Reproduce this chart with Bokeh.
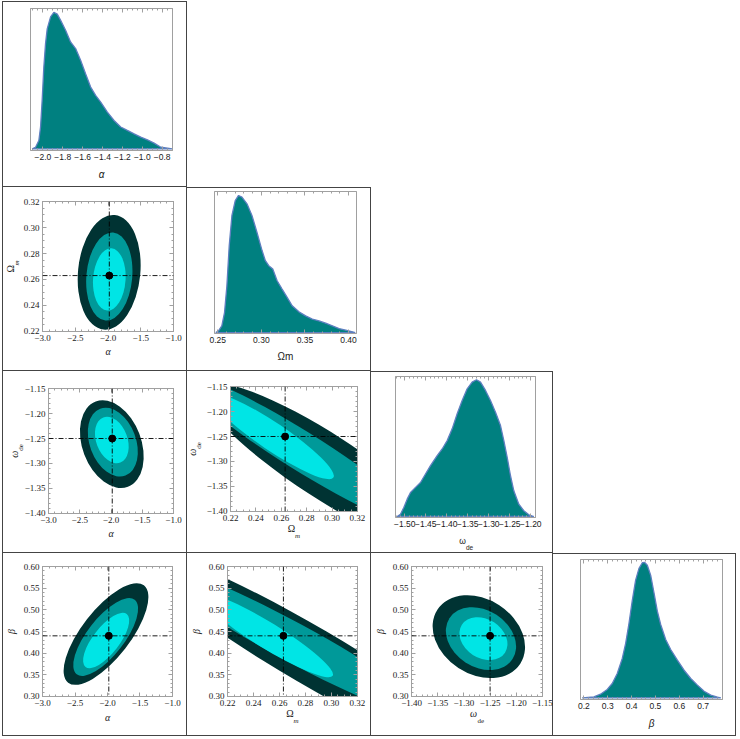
import math
from bokeh.plotting import figure
from bokeh.layouts import column, row
from bokeh.models import (Range1d, LinearAxis, Span, CustomJSTickFormatter, Title,
                          SingleIntervalTicker, ColumnDataSource)
from bokeh.embed import file_html
from bokeh.resources import INLINE

# ---------------- data: 1D marginal densities (relative) ----------------
alpha_x = [-2.107, -2.073, -2.040, -2.023, -2.007, -1.990, -1.973, -1.956, -1.922, -1.889,
           -1.855, -1.822, -1.771, -1.721, -1.670, -1.620, -1.570, -1.519, -1.469, -1.418,
           -1.351, -1.284, -1.217, -1.150, -1.082, -1.015, -0.948, -0.881, -0.813, -0.746, -0.700]
alpha_pdf = [0.0, 0.012, 0.061, 0.16, 0.355, 0.60, 0.77, 0.88, 0.968, 1.0,
             0.988, 0.944, 0.87, 0.784, 0.735, 0.65, 0.55, 0.453, 0.392, 0.343,
             0.27, 0.208, 0.16, 0.135, 0.11, 0.086, 0.066, 0.042, 0.012, 0.005, 0.0]

om_x = [0.2477, 0.2508, 0.2546, 0.2577, 0.2604, 0.2631, 0.2662, 0.2700, 0.2738, 0.2777,
        0.2835, 0.2892, 0.2950, 0.3008, 0.3046, 0.3085, 0.3131, 0.3181, 0.3238, 0.3296,
        0.3354, 0.3431, 0.3508, 0.3585, 0.3662, 0.3738, 0.3815, 0.3892, 0.3969, 0.4046, 0.4077]
om_pdf = [0.0, 0.012, 0.049, 0.146, 0.34, 0.634, 0.854, 0.963, 1.0, 0.988,
          0.939, 0.854, 0.73, 0.598, 0.524, 0.488, 0.463, 0.378, 0.317, 0.256,
          0.195, 0.151, 0.122, 0.098, 0.085, 0.068, 0.049, 0.029, 0.017, 0.005, 0.0]

wde_x = [-1.5183, -1.5103, -1.5024, -1.4944, -1.4865, -1.4746, -1.4627, -1.4508, -1.4389, -1.4230,
         -1.4111, -1.3992, -1.3873, -1.3754, -1.3635, -1.3516, -1.3397, -1.3294, -1.3198, -1.3079,
         -1.2960, -1.2841, -1.2722, -1.2643, -1.2563, -1.2484, -1.2405, -1.2286, -1.2167, -1.2048, -1.1929]
wde_pdf = [0.0, 0.017, 0.066, 0.127, 0.176, 0.213, 0.249, 0.311, 0.372, 0.445,
           0.494, 0.555, 0.641, 0.751, 0.848, 0.934, 0.983, 1.0, 0.983, 0.922,
           0.848, 0.763, 0.665, 0.555, 0.433, 0.298, 0.188, 0.09, 0.042, 0.012, 0.0]

beta_x = [0.193, 0.242, 0.270, 0.298, 0.319, 0.340, 0.361, 0.375, 0.389, 0.403,
          0.417, 0.431, 0.445, 0.455, 0.466, 0.480, 0.494, 0.508, 0.522, 0.543,
          0.564, 0.592, 0.620, 0.648, 0.676, 0.704, 0.732, 0.760, 0.774]
beta_pdf = [0.0, 0.007, 0.027, 0.062, 0.106, 0.180, 0.291, 0.401, 0.549, 0.72,
            0.87, 0.956, 0.998, 1.0, 0.980, 0.906, 0.776, 0.640, 0.542, 0.431,
            0.357, 0.278, 0.204, 0.143, 0.094, 0.049, 0.020, 0.005, 0.0]

# best-fit values
best_alpha, best_om, best_wde, best_beta = -1.98, 0.263, -1.25, 0.44

# ---------------- data: 2D confidence regions (outer, middle, inner) ----------------
# centre x, centre y, width, height (data units), angle (deg)
ab_alpha_om = dict(x=[-1.982, -1.980, -1.980], y=[0.2655, 0.2623, 0.2600],
                   w=[0.951, 0.700, 0.496], h=[0.0887, 0.0681, 0.0481], a=[-5.5, -5.0, -4.0])
ab_alpha_wde = dict(x=[-1.987, -1.971, -1.987], y=[-1.2613, -1.2572, -1.2529],
                    w=[0.942, 0.739, 0.499], h=[0.1823, 0.1432, 0.0965], a=[20.7, 20.7, 20.7])
ab_om_wde = dict(x=[0.295, 0.275, 0.253], y=[-1.310, -1.2775, -1.250],
                 w=[0.2284, 0.220, 0.116], h=[0.128, 0.0775, 0.055], a=[-33.0, -32.0, -34.0])
ab_alpha_beta = dict(x=[-2.023, -2.028, -2.021], y=[0.4442, 0.4373, 0.4293],
                     w=[0.743, 0.568, 0.405], h=[0.2847, 0.218, 0.155], a=[-37.9, -37.9, -37.9])
ab_om_beta = dict(x=[0.285, 0.270, 0.2505], y=[0.3924, 0.426, 0.441],
                  w=[0.322, 0.240, 0.1186], h=[0.1332, 0.090, 0.060], a=[-30.3, -28.4, -31.7])
ab_wde_beta = dict(x=[-1.2715, -1.2674, -1.2627], y=[0.4381, 0.4335, 0.4335],
                   w=[0.189, 0.1436, 0.0982], h=[0.173, 0.1314, 0.0899], a=[-33.1, -33.0, -33.0])

# ---------------- styles ----------------
FILL = "#008080"
CURVE = "#5e7fc0"
LEVEL_COLORS = ["#003333", "#009999", "#00e5e5"]
FRAME = "#a0a0a0"
TXT = "#1a1a1a"
CELL = "#444444"
SERIF = "Liberation Serif"
SANS = "Liberation Sans"
EN, EM, THIN = "\u2002", "\u2003", "\u2009"


def shadow(left=False, top=False):
    parts = [f"inset -1px 0 0 0 {CELL}", f"inset 0 -1px 0 0 {CELL}"]
    if left:
        parts.append(f"inset 1px 0 0 0 {CELL}")
    if top:
        parts.append(f"inset 0 1px 0 0 {CELL}")
    return ", ".join(parts)


def fmt(dec):
    return CustomJSTickFormatter(
        code=f"const s = Math.abs(tick).toFixed({dec}); return (tick < -1e-9 ? '\u2212' : '') + s;")


def make_axis(interval, minor, dec=None, font=SANS, size="9px", label=None, lfont=SERIF,
              lsize="10px", lstyle="normal", lstand=5):
    ax = LinearAxis(ticker=SingleIntervalTicker(interval=interval, num_minor_ticks=minor))
    ax.axis_line_color = FRAME
    ax.major_tick_line_color = FRAME
    ax.minor_tick_line_color = FRAME
    ax.major_tick_in = 4
    ax.major_tick_out = 0
    ax.minor_tick_in = 2
    ax.minor_tick_out = 0
    if dec is None:
        ax.formatter = CustomJSTickFormatter(code="return '';")
        ax.major_label_text_font_size = "0px"
        ax.major_label_standoff = 0
    else:
        ax.formatter = fmt(dec)
        ax.major_label_standoff = 3
        ax.major_label_text_font = font
        ax.major_label_text_font_size = size
        ax.major_label_text_color = TXT
    if label is not None:
        ax.axis_label = label
        ax.axis_label_text_font = lfont
        ax.axis_label_text_font_size = lsize
        ax.axis_label_text_font_style = lstyle
        ax.axis_label_text_color = TXT
        ax.axis_label_standoff = lstand
    return ax


def add_title(p, side, text, font, size, style, offset, standoff, valign):
    p.add_layout(Title(text=text, align="left", offset=offset, standoff=standoff,
                       vertical_align=valign, text_font=font, text_font_size=size,
                       text_font_style=style, text_color=TXT), side)


def make_fig(geom, xr, yr, left=False, top=False):
    ml, fw, mr, mt, fh, mb = geom
    p = figure(frame_width=fw, frame_height=fh, min_border_left=ml, min_border_right=mr,
               min_border_top=mt, min_border_bottom=mb,
               x_range=Range1d(*xr), y_range=Range1d(*yr),
               x_axis_type=None, y_axis_type=None,
               output_backend="svg", toolbar_location=None,
               border_fill_color=None, background_fill_color="white",
               outline_line_color=FRAME, styles={"box-shadow": shadow(left, top)})
    p.frame_align = False
    return p


def panel_1d(geom, xr, yr, xs, ys, interval, minor, dec, label, lsize, lstyle, lstand,
             left=False, top=True):
    p = make_fig(geom, xr, yr, left, top)
    p.patch(x=xs, y=ys, fill_color=FILL, line_color=CURVE, line_width=1.3)
    p.add_layout(make_axis(interval, minor, dec, SANS, "8.5px", label, SANS, lsize, lstyle, lstand), "below")
    p.add_layout(make_axis(interval, minor, None), "above")
    return p


def panel_2d(geom, xr, yr, ab, bx, by, xt, yt, xlab, ylab, left=False, top=False):
    p = make_fig(geom, xr, yr, left, top)
    src = ColumnDataSource(dict(ab, c=LEVEL_COLORS))
    p.ellipse(x="x", y="y", width="w", height="h", angle="a", angle_units="deg",
              fill_color="c", line_color=None, source=src)
    p.add_layout(Span(location=bx, dimension="height", line_color="black",
                      line_width=0.9, line_dash="5 2 1 2"))
    p.add_layout(Span(location=by, dimension="width", line_color="black",
                      line_width=0.9, line_dash="5 2 1 2"))
    p.scatter(x=[bx], y=[by], size=7, color="black")
    p.add_layout(make_axis(xt[0], xt[1], xt[2], SERIF, "9px", *xlab), "below")
    p.add_layout(make_axis(yt[0], yt[1], yt[2], SERIF, "9px", *ylab), "left")
    p.add_layout(make_axis(xt[0], xt[1], None), "above")
    p.add_layout(make_axis(yt[0], yt[1], None), "right")
    return p


# axis ranges (tiny padding keeps the end ticks)
r_alpha = (-3.0001, -0.9999)
r_om = (0.2199, 0.3201)
r_wde = (-1.4001, -1.1499)
r_beta = (0.2999, 0.6001)
t_alpha = (0.5, 5, 1)
t_om = (0.02, 4, 2)
t_wde = (0.05, 5, 2)
t_beta = (0.05, 5, 2)

# geometry: (left, frame_w, right, top, frame_h, bottom)
G = {
    (1, 1): (28, 142, 15, 7, 142, 37),
    (2, 1): (40, 131, 14, 14, 130, 40),
    (2, 2): (27, 142, 15, 4, 142, 38),
    (3, 1): (46, 125, 14, 17, 125, 40),
    (3, 2): (43, 127, 14, 15, 125, 42),
    (3, 3): (24, 140, 18, 5, 141, 36),
    (4, 1): (40, 130, 15, 13, 130, 40),
    (4, 2): (40, 130, 14, 13, 130, 40),
    (4, 3): (40, 131, 11, 13, 130, 40),
    (4, 4): (27, 142, 14, 6, 140, 37),
}

# ---- diagonal panels ----
p11 = panel_1d(G[1, 1], (-2.124, -0.696), (-0.012, 1.029), alpha_x, alpha_pdf, 0.2, 4, 1,
               "\u03b1", "10px", "italic", 6, left=True)
p22 = panel_1d(G[2, 2], (0.2462, 0.4092), (-0.007, 1.029), om_x, om_pdf, 0.05, 5, 2,
               "\u03a9m", "10px", "normal", 5)
p33 = panel_1d(G[3, 3], (-1.5222, -1.1889), (-0.0073, 1.024), wde_x, wde_pdf, 0.05, 5, 2,
               "\u03c9" + EN + THIN, "8.5px", "normal", 6)
add_title(p33, "below", "de", SANS, "6.5px", "normal", 140 / 2 + 0.5, -10, "top")
p44 = panel_1d(G[4, 4], (0.186, 0.781), (-0.0123, 1.022), beta_x, beta_pdf, 0.1, 5, 1,
               "\u03b2", "10px", "italic", 6)

# ---- off-diagonal panels ----
p21 = panel_2d(G[2, 1], r_alpha, r_om, ab_alpha_om, best_alpha, best_om, t_alpha, t_om,
               ("\u03b1", SERIF, "10px", "italic", 2), (EM + "m", SERIF, "7px", "italic", 0),
               left=True)
add_title(p21, "left", "\u03a9", SERIF, "10px", "normal", 130 / 2 - 6.1, -13, "bottom")

p31 = panel_2d(G[3, 1], r_alpha, r_wde, ab_alpha_wde, best_alpha, best_wde, t_alpha, t_wde,
               ("\u03b1", SERIF, "10px", "italic", 2), (EM + "de", SERIF, "7px", "normal", -3),
               left=True)
add_title(p31, "left", "\u03c9", SERIF, "10px", "italic", 125 / 2 - 6.8, -13, "bottom")

p32 = panel_2d(G[3, 2], r_om, r_wde, ab_om_wde, best_om, best_wde, t_om, t_wde,
               ("\u03a9" + EN, SERIF, "10px", "normal", -1), (EM + "de", SERIF, "7px", "normal", 1))
add_title(p32, "below", "m", SERIF, "7px", "italic", 127 / 2 + 1.1, -10, "top")
add_title(p32, "left", "\u03c9", SERIF, "10px", "italic", 125 / 2 - 6.8, -13, "bottom")

p41 = panel_2d(G[4, 1], r_alpha, r_beta, ab_alpha_beta, best_alpha, best_beta, t_alpha, t_beta,
               ("\u03b1", SERIF, "10px", "italic", 3), ("\u03b2", SERIF, "10px", "italic", 4),
               left=True)

p42 = panel_2d(G[4, 2], r_om, r_beta, ab_om_beta, best_om, best_beta, t_om, t_beta,
               ("\u03a9" + EN, SERIF, "10px", "normal", -1), ("\u03b2", SERIF, "10px", "italic", 4))
add_title(p42, "below", "m", SERIF, "7px", "italic", 130 / 2 + 1.1, -10, "top")

p43 = panel_2d(G[4, 3], r_wde, r_beta, ab_wde_beta, best_wde, best_beta, t_wde, t_beta,
               ("\u03c9" + EN + THIN, SERIF, "10px", "italic", -1), ("\u03b2", SERIF, "10px", "italic", 4))
add_title(p43, "below", "de", SERIF, "7px", "normal", 131 / 2 + 0.5, -10, "top")

root = column(row(p11),
              row(p21, p22),
              row(p31, p32, p33),
              row(p41, p42, p43, p44),
              styles={"margin-left": "2px", "margin-top": "1px"})

open("out.html", "w").write(file_html(root, INLINE))
